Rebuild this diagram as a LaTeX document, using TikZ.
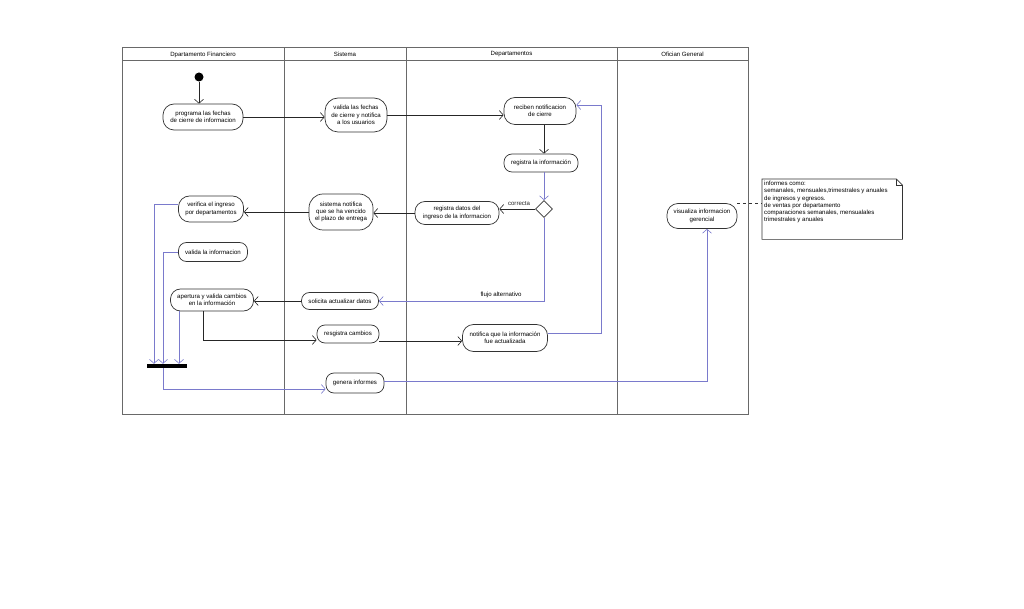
\documentclass[tikz,border=0pt]{standalone}
\usepackage{fontspec}
\setmainfont{Liberation Sans}
\usepackage{xcolor}
\usepackage{tikz}
\usetikzlibrary{arrows.meta,shapes.geometric}

\definecolor{flowblue}{RGB}{122,122,204}
\definecolor{lanegray}{RGB}{105,105,105}

\begin{document}
\begin{tikzpicture}[x=1pt,y=-1pt,
                    font=\fontsize{6.1}{7.2}\selectfont,
                    act/.style n args={2}{draw=black!80,fill=white,
                    minimum width=#1,
                    minimum height=#2,
                    rounded corners=8pt,
                    inner sep=1pt,align=center,line width=0.7pt},
                    flow/.style={-{Straight Barb[length=4pt,width=9pt]},black!85,line width=0.6pt},
                    alt/.style={flow,flowblue},
                    lane/.style={draw=lanegray,line width=1pt}]
    \useasboundingbox (0,0) rectangle (1024,609);

    % carriles
    \draw[lane] (122,48) rectangle (748,414);
    \draw[lane] (122,61) -- (748,61);
    \foreach \x in {284,406,617}
        \draw[lane] (\x,48) -- (\x,414);
    \node (hfin) at (203,54.5) {Dpartamento Financiero};
    \node (hsis) at (345,54.5) {Sistema};
    \node (hdep) at (511.5,54.5) {Departamentos};
    \node (hofi) at (682.5,54.5) {Ofician General};

    % actividades
    \node[circle,fill=black,minimum size=9pt,inner sep=0pt] (ini) at (199,77) {};
    \node[act={80pt}{26pt},rounded corners=11pt] (prog) at (203,117) {programa las fechas\\de cierre de informacion};
    \node[act={62pt}{34pt},rounded corners=13pt] (valf) at (356,115) {valida las fechas\\de cierre y notifica\\a los usuarios};
    \node[act={72pt}{27pt},rounded corners=11pt] (recib) at (540,111) {reciben notificacion\\de cierre};
    \node[act={74pt}{18pt}] (regi) at (541,163) {registra la información};
    \node[diamond,draw=black!80,fill=white,aspect=1,minimum width=17pt,minimum height=17pt,inner sep=0pt,line width=0.7pt] (dec) at (544,209) {};
    \node[act={84pt}{23pt},rounded corners=10pt] (regd) at (457,213) {registra datos del\\ingreso de la informacion};
    \node[act={64pt}{36pt},rounded corners=14pt] (sisn) at (341,212) {sistema notifica\\que se ha vencido\\el plazo de entrega};
    \node[act={65pt}{26pt},rounded corners=11pt] (verif) at (211,209) {verifica el ingreso\\por departamentos};
    \node[act={69pt}{19pt}] (valinf) at (213,252) {valida la informacion};
    \node[act={83pt}{22pt},rounded corners=10pt] (apert) at (212,300) {apertura y valida cambios\\en la información};
    \node[act={77pt}{17pt}] (solic) at (340,301) {solicita actualizar datos};
    \node[act={62pt}{18pt}] (resg) at (348,334) {resgistra cambios};
    \node[act={85pt}{27pt},rounded corners=11pt] (notif) at (505,338) {notifica que la información\\fue actualizada};
    \node[act={58pt}{20pt}] (gen) at (355,383) {genera informes};
    \node[act={70pt}{25pt},rounded corners=11pt] (visu) at (702,216) {visualiza informacion\\gerencial};
    \node[fill=black,minimum width=40pt,minimum height=4pt,inner sep=0pt] (bar) at (167,366) {};

    % nota
    \node[minimum width=140pt,minimum height=60pt,anchor=north west,inner sep=0pt] (note) at (762,179) {};
    \draw[draw=black!80,fill=white,line width=0.7pt] (note.north west) -- ([xshift=-6pt]note.north east)
        -- ([yshift=-6pt]note.north east) -- (note.south east) -- (note.south west) -- cycle;
    \draw[draw=black!80,line width=0.5pt] ([xshift=-6pt]note.north east) -- ++(0,6) -- ++(6,0);
    \node[anchor=north west,align=left,inner sep=0pt] (notetxt) at ([xshift=2pt,yshift=-2pt]note.north west)
        {informes como:\\semanales, mensuales,trimestrales y anuales\\de ingresos y egresos.\\de ventas por departamento\\comparaciones semanales, mensualales\\trimestrales y anuales};
    \coordinate (rtn) at (601,105);

    % flujos
    \draw[flow] (ini) -- (ini |- prog.north);
    \draw[flow] (prog.east) -- (prog.east -| valf.west);
    \draw[flow] (valf.east) -- (valf.east -| recib.west);
    \draw[flow] (recib.south -| dec) -- (regi.north -| dec);
    \draw[alt] (regi.south -| dec) -- (dec.north);
    \draw[flow] (dec.west) -- (dec.west -| regd.east) node[pos=0.45,above=-0.5pt] {correcta};
    \draw[flow] (regd.west) -- (regd.west -| sisn.east);
    \draw[flow] (sisn.west) -- (sisn.west -| verif.east);
    \draw[alt] (dec.south) |- (solic.east) node[pos=0.63,above=0pt,black] {flujo alternativo};
    \draw[flow] (solic.west) -- (solic.west -| apert.east);
    \draw[flow] ([xshift=-9pt]apert.south) |- ([yshift=-6pt]resg.west);
    \draw[flow] ([yshift=-7pt]resg.east) -- ([yshift=-7pt]resg.east -| notif.west);
    \draw[alt] ([yshift=5pt]notif.east) -| (rtn) -- (rtn -| recib.east);
    \draw[alt] ([yshift=5pt]verif.west) -| ([xshift=-13pt]bar.north);
    \draw[alt] (valinf.west) -| ([xshift=-4pt]bar.north);
    \draw[alt] ([xshift=-33pt]apert.south) -- ([xshift=-33pt]apert.south |- bar.north);
    \draw[alt] ([xshift=-4pt]bar.south) |- ([yshift=-6pt]gen.west);
    \draw[alt] ([yshift=2pt]gen.east) -| ([xshift=5pt]visu.south);
    \draw[dashed,black!80,line width=0.5pt] (visu.north east) -- (visu.north east -| note.west);
\end{tikzpicture}
\end{document}
